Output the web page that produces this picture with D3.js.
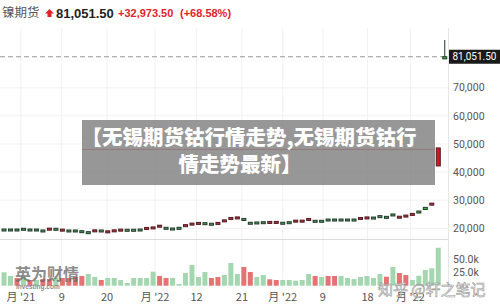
<!DOCTYPE html>
<html>
<head>
<meta charset="utf-8">
<script src="https://cdn.jsdelivr.net/npm/d3@7"></script>
<style>
  body { margin: 0; background: #fff; }
  svg { display: block; }
</style>
</head>
<body>
<div id="chart-area"></div>
<script>
// weekly nickel candles
const opens = [19450, 19450, 19450, 19700, 19450, 19450, 19100, 20050, 19700, 19700,
    19100, 19100, 18850, 18500, 19450, 19100, 19100, 19450, 19700, 19350,
    19350, 19450, 20300, 20500, 21100, 20050, 19800, 20050, 21300, 21850,
    22100, 21700, 21500, 22100, 23000, 23850, 24050, 23200, 21850, 21950,
    22050, 22450, 22450, 21850, 22050, 22900, 22900, 23500, 22550, 22550,
    23000, 23000, 23000, 23000, 23000, 23850, 24050, 23700, 24200, 23950,
    24800, 24300, 24700, 25300, 25850, 26700, 28950, 48600, 80300]
const closes = [19750, 19750, 19750, 20000, 19750, 19750, 19400, 19750, 20000, 19400,
    19400, 19400, 19150, 18800, 19150, 19400, 18800, 19150, 19400, 19650,
    19650, 19750, 20000, 20200, 20800, 20350, 20100, 20350, 20800, 21550,
    21800, 22000, 21800, 21800, 22700, 23550, 23750, 23500, 22150, 22250,
    22350, 22150, 22150, 22150, 22350, 22600, 22600, 23200, 22850, 22850,
    23300, 23300, 23300, 23300, 23300, 23550, 23750, 24000, 24500, 24250,
    25100, 24000, 24400, 25000, 26150, 27450, 28650, 42200, 81051.5]
const wicks = [{ index: 68, high: 87000, low: 80300 }]

const volumes = [25800, 18700, 14800, 16700, 11000, 11000, 12900, 12900, 14800, 14800,
    14800, 16700, 18700, 22500, 16700, 11000, 14800, 14800, 11000, 5200,
    14800, 14800, 14800, 26900, 18700, 14800, 14800, 3300, 24400, 40000,
    16700, 26300, 14800, 16700, 20600, 43700, 22500, 36000, 26300, 16700,
    20600, 12300, 11000, 11000, 11000, 9600, 11000, 22500, 18700, 16700,
    18700, 18700, 18700, 14800, 12900, 16700, 18700, 14800, 22500, 17300,
    36000, 24400, 20600, 11000, 19200, 30200, 33500, 73000]
const volumeUp = [1, 1, 0, 1, 0, 1, 0, 0, 1, 0,
    0, 0, 0, 1, 1, 0, 1, 1, 1, 1,
    1, 1, 1, 1, 0, 0, 1, 1, 1, 1,
    1, 1, 0, 0, 1, 1, 1, 0, 0, 1,
    1, 0, 0, 1, 1, 1, 1, 1, 0, 1,
    0, 0, 1, 1, 1, 1, 1, 1, 1, 0,
    1, 0, 0, 1, 1, 1, 1, 1]

const priceTicks = [20000, 30000, 40000, 50000, 60000, 70000]
const volumeTicks = [25000, 50000]
const dateTicks = [2.6, 8.9, 15.9, 23.3, 29.7, 36.7, 43, 49.2, 56.1, 62.7]
const dateLabels = ["月 '21", "9", "20", "月 '22", "12", "21", "月 '22", "9", "18", "月 '22"]

const NAME = "镍期货"
const LAST = 81051.50
const PREV_CLOSE = 48078.00
const TITLE_1 = "【无锡期货钴行情走势,无锡期货钴行"
const TITLE_2 = "情走势最新】"

const WIDTH = 500
const HEIGHT = 308
const PLOT_RIGHT = 448

const svg = d3.select("#chart-area")
    .append("svg")
    .attr("width", WIDTH)
    .attr("height", HEIGHT)

const x = d3.scaleLinear()
    .domain([-0.5, closes.length - 0.5])
    .range([0.8, PLOT_RIGHT])

const y = d3.scaleLinear()
    .domain([20000, 70000])
    .range([228.3, 87.8])

const yVol = d3.scaleLinear()
    .domain([0, 25000])
    .range([285.7, 272.7])

const green = "#4a9a5c", greenEdge = "#22382a"
const red = "#b8323c", redEdge = "#4d1a20"

// grid
svg.append("g").selectAll("line").data(priceTicks).enter().append("line")
    .attr("x1", 0).attr("x2", PLOT_RIGHT)
    .attr("y1", d => y(d)).attr("y2", d => y(d))
    .attr("stroke", "#f1f1f1")

svg.append("g").selectAll("line").data(dateTicks).enter().append("line")
    .attr("x1", d => x(d)).attr("x2", d => x(d))
    .attr("y1", 28).attr("y2", 287)
    .attr("stroke", "#f1f1f1")

// separator and right axis line
svg.append("line")
    .attr("x1", 0).attr("x2", PLOT_RIGHT)
    .attr("y1", 239.5).attr("y2", 239.5)
    .attr("stroke", "#dcdcdc")

svg.append("line")
    .attr("x1", PLOT_RIGHT + 0.5).attr("x2", PLOT_RIGHT + 0.5)
    .attr("y1", 28).attr("y2", 290)
    .attr("stroke", "#e6e6e6")

// previous close line
svg.append("line")
    .attr("x1", 82).attr("x2", 435)
    .attr("y1", y(PREV_CLOSE)).attr("y2", y(PREV_CLOSE))
    .attr("stroke", "#e06060")
    .attr("stroke-width", 1)

// volume bars
svg.append("g").selectAll("rect").data(volumes).enter().append("rect")
    .attr("x", (d, i) => x(i) - 2.5)
    .attr("width", 5)
    .attr("y", d => yVol(d))
    .attr("height", d => yVol(0) - yVol(d))
    .attr("fill", (d, i) => volumeUp[i] ? "#a3d7b0" : "#e57373")

// last price dashed line
svg.append("line")
    .attr("x1", 0).attr("x2", PLOT_RIGHT - 2)
    .attr("y1", y(LAST)).attr("y2", y(LAST))
    .attr("stroke", "#9a9a9a")
    .attr("stroke-dasharray", "5,3")

// wicks
svg.append("g").selectAll("line").data(wicks).enter().append("line")
    .attr("x1", d => x(d.index)).attr("x2", d => x(d.index))
    .attr("y1", d => y(d.high)).attr("y2", d => y(d.low))
    .attr("stroke", greenEdge)

// candles
const candles = closes.map((c, i) => ({ i: i, open: opens[i], close: c }))
svg.append("g").selectAll("rect").data(candles).enter().append("rect")
    .attr("x", d => x(d.i) - 2)
    .attr("width", 4)
    .attr("y", d => y(Math.max(d.open, d.close)))
    .attr("height", d => Math.max(2, Math.abs(y(d.open) - y(d.close))))
    .attr("fill", d => {
        const big = Math.abs(y(d.open) - y(d.close)) > 2
        if (d.close >= d.open) return big ? "#35c23f" : green
        return big ? "#d8141f" : red
    })
    .attr("stroke", d => d.close >= d.open ? greenEdge : redEdge)
    .attr("stroke-width", 1)

// right axis labels
svg.append("g").selectAll("text").data(priceTicks).enter().append("text")
    .attr("x", 453)
    .attr("y", d => y(d))
    .attr("dy", "0.35em")
    .style("font-family", "Roboto, 'Liberation Sans', sans-serif")
    .style("font-size", "10.5px")
    .attr("fill", "#555")
    .text(d => d3.format(",")(d))

svg.append("g").selectAll("text").data(volumeTicks).enter().append("text")
    .attr("x", 453)
    .attr("y", d => yVol(d))
    .attr("dy", "0.35em")
    .style("font-family", "Roboto, 'Liberation Sans', sans-serif")
    .style("font-size", "10.5px")
    .attr("fill", "#555")
    .text(d => d3.format(".1f")(d / 1000) + "k")

// last price tag
svg.append("rect")
    .attr("x", PLOT_RIGHT + 1).attr("y", y(LAST) - 7)
    .attr("width", WIDTH - PLOT_RIGHT - 1).attr("height", 14)
    .attr("fill", "#1a1a1a")
svg.append("text")
    .attr("x", 452.5).attr("y", y(LAST))
    .attr("dy", "0.35em")
    .style("font-family", "Roboto, 'Liberation Sans', sans-serif")
    .style("font-size", "10px")
    .attr("fill", "#fff")
    .text(d3.format(",.2f")(LAST))

// date labels
svg.append("g").selectAll("text").data(dateTicks).enter().append("text")
    .attr("x", d => x(d))
    .attr("y", 297)
    .attr("dy", "0.35em")
    .attr("text-anchor", "middle")
    .style("font-family", "'Noto Sans CJK SC', Roboto, sans-serif")
    .style("font-size", "11px")
    .attr("fill", "#555")
    .text((d, i) => dateLabels[i])

// header
const change = LAST - PREV_CLOSE
const header = svg.append("g")
header.append("text")
    .attr("x", 2).attr("y", 13).attr("dy", "0.35em")
    .style("font-family", "'Noto Sans CJK SC', sans-serif")
    .style("font-size", "12.5px")
    .attr("fill", "#555")
    .text(NAME)
header.append("path")
    .attr("d", "M45,13.5 L49.5,9 L54,13.5 L51.5,13.5 L51.5,17 L47.5,17 L47.5,13.5 Z")
    .attr("fill", "#e0242b")
header.append("text")
    .attr("x", 56).attr("y", 13).attr("dy", "0.35em")
    .style("font-family", "'Liberation Sans', Arial, sans-serif")
    .style("font-size", "13px")
    .style("font-weight", "bold")
    .attr("fill", "#222")
    .text(d3.format(",.2f")(LAST))
header.append("text")
    .attr("x", 118).attr("y", 13).attr("dy", "0.35em")
    .style("font-family", "'Liberation Sans', Arial, sans-serif")
    .style("font-size", "11px")
    .style("font-weight", "bold")
    .attr("fill", "#e0242b")
    .text("+" + d3.format(",.2f")(change))
header.append("text")
    .attr("x", 180).attr("y", 13).attr("dy", "0.35em")
    .style("font-family", "'Liberation Sans', Arial, sans-serif")
    .style("font-size", "11px")
    .style("font-weight", "bold")
    .attr("fill", "#e0242b")
    .text("(+" + d3.format(".2f")(change / PREV_CLOSE * 100) + "%)")

// title overlay
svg.append("rect")
    .attr("x", 82).attr("y", 120)
    .attr("width", 353).attr("height", 65)
    .attr("fill", "rgba(128,128,128,0.82)")
svg.append("text")
    .attr("x", 249).attr("y", 138).attr("dy", "0.35em")
    .attr("text-anchor", "middle")
    .style("font-family", "'Noto Sans CJK SC', sans-serif")
    .style("font-size", "20.5px")
    .style("font-weight", "900")
    .attr("fill", "#fff")
    .text(TITLE_1)
svg.append("text")
    .attr("x", 240).attr("y", 165).attr("dy", "0.35em")
    .attr("text-anchor", "middle")
    .style("font-family", "'Noto Sans CJK SC', sans-serif")
    .style("font-size", "20.5px")
    .style("font-weight", "900")
    .attr("fill", "#fff")
    .text(TITLE_2)

// watermarks
svg.append("text")
    .attr("x", 15).attr("y", 280)
    .style("font-family", "'Noto Sans CJK SC', sans-serif")
    .style("font-size", "16px")
    .style("font-weight", "bold")
    .attr("fill", "#666")
    .attr("opacity", 0.75)
    .text("英为财情")
svg.append("text")
    .attr("x", 16).attr("y", 288.5)
    .style("font-family", "'Liberation Sans', Arial, sans-serif")
    .style("font-size", "6.5px")
    .style("font-weight", "bold")
    .attr("fill", "#666")
    .attr("opacity", 0.75)
    .text("Investing.com")
svg.append("text")
    .attr("x", 378).attr("y", 295)
    .style("font-family", "'Noto Sans CJK SC', sans-serif")
    .style("font-size", "15px")
    .attr("fill", "#fff")
    .attr("fill-opacity", 0.7)
    .attr("stroke", "#999")
    .attr("stroke-width", 0.6)
    .text("知乎 @轩之笔记")
</script>
</body>
</html>
